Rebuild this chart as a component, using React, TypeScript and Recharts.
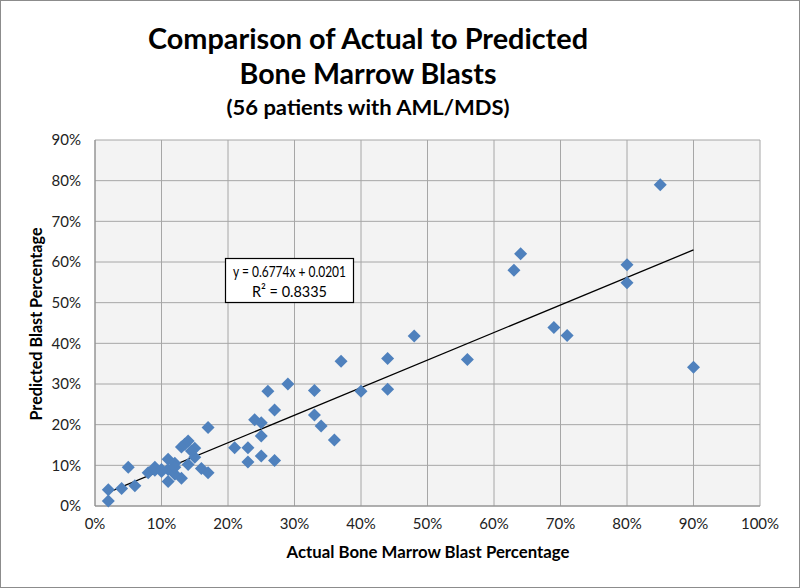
import React from 'react';
import { ScatterChart, Scatter, XAxis, YAxis, CartesianGrid, ReferenceLine } from 'recharts';

const actual = [2, 2, 4, 6, 5, 8, 9, 9, 10, 11, 11, 11, 12, 12, 13, 13, 13.5, 14, 14, 15, 15, 14.5, 16, 17, 17, 21, 23, 23, 25, 27, 24, 25, 25, 27, 26, 29, 33, 33, 34, 36, 37, 40, 44, 44, 48, 56, 63, 64, 69, 71, 80, 80, 85, 90, 12, 10];
const predicted = [1.2, 4.0, 4.3, 5.0, 9.5, 8.2, 8.8, 9.5, 8.5, 11.5, 6.0, 9.0, 10.5, 7.8, 6.8, 14.5, 15.2, 16.0, 10.2, 12.0, 14.2, 13.5, 9.2, 8.2, 19.3, 14.3, 14.3, 10.8, 12.3, 11.2, 21.2, 20.5, 17.2, 23.6, 28.2, 30.0, 28.4, 22.4, 19.7, 16.2, 35.6, 28.2, 28.7, 36.3, 41.8, 36.0, 58.0, 62.0, 43.9, 41.9, 59.3, 54.9, 79.0, 34.1, 9.5, 9.0];
const xTicks = [0, 10, 20, 30, 40, 50, 60, 70, 80, 90, 100];
const yTicks = [0, 10, 20, 30, 40, 50, 60, 70, 80, 90];
const slope = 0.6774;
const intercept = 0.0201;
const rSquared = 0.8335;
const titleLines = ['Comparison of Actual to Predicted', 'Bone Marrow Blasts'];
const subtitle = '(56 patients with AML/MDS)';
const xTitle = 'Actual Bone Marrow Blast Percentage';
const yTitle = 'Predicted Blast Percentage';

const points = actual.map((x, i) => ({ x, y: predicted[i] }));
const trendStart = Math.min(...actual);
const trendEnd = Math.max(...actual);
const trendY = (x: number) => slope * x + intercept * 100;

const FONT = 'Lato, "Open Sans", sans-serif';

const Diamond = (props: any) => {
  const { cx, cy } = props;
  const r = 6.5;
  return <path d={`M${cx},${cy - r}L${cx + r},${cy}L${cx},${cy + r}L${cx - r},${cy}Z`} fill="#4F81BD" />;
};

export default function App() {
  return (
    <div style={{ position: 'fixed', left: 0, top: 0, width: 800, height: 588, background: '#fff' }}>
      <div style={{ position: 'absolute', left: 0, top: 0 }}>
        <ScatterChart width={800} height={588} margin={{ top: 140, right: 40, bottom: 52, left: 35 }}>
          <CartesianGrid stroke="#a6a6a6" fill="#f3f3f3" />
          <XAxis
            type="number"
            dataKey="x"
            domain={[0, 100]}
            ticks={xTicks}
            tickFormatter={(v: number) => `${v}%`}
            height={30}
            tickLine={false}
            tickMargin={6}
            axisLine={{ stroke: '#8c8c8c' }}
            tick={{ fill: '#222', fontSize: 15, fontFamily: FONT }}
            interval={0}
          />
          <YAxis
            type="number"
            dataKey="y"
            domain={[0, 90]}
            ticks={yTicks}
            tickFormatter={(v: number) => `${v}%`}
            width={60}
            tickLine={false}
            tickMargin={8}
            axisLine={{ stroke: '#8c8c8c' }}
            tick={{ fill: '#222', fontSize: 15, fontFamily: FONT }}
            interval={0}
          />
          <Scatter data={points} shape={<Diamond />} isAnimationActive={false} />
          <ReferenceLine
            segment={[{ x: trendStart, y: trendY(trendStart) }, { x: trendEnd, y: trendY(trendEnd) }]}
            stroke="#000"
            strokeWidth={1.3}
            ifOverflow="visible"
          />
        </ScatterChart>
      </div>
      <svg width={800} height={588} style={{ position: 'absolute', left: 0, top: 0, pointerEvents: 'none' }}>
        <rect x={0.5} y={0.5} width={799} height={587} fill="none" stroke="#8c8c8c" />
        <text x={368} y={49} textAnchor="middle" fontFamily={FONT} fontWeight="bold" fontSize={29} fill="#000" textLength={440} lengthAdjust="spacingAndGlyphs">{titleLines[0]}</text>
        <text x={368} y={84} textAnchor="middle" fontFamily={FONT} fontWeight="bold" fontSize={29} fill="#000" textLength={257} lengthAdjust="spacingAndGlyphs">{titleLines[1]}</text>
        <text x={368} y={115} textAnchor="middle" fontFamily={FONT} fontWeight="bold" fontSize={21} fill="#000" textLength={283} lengthAdjust="spacingAndGlyphs">{subtitle}</text>
        <text x={428} y={558} textAnchor="middle" fontFamily={FONT} fontWeight="bold" fontSize={17} fill="#000" textLength={283} lengthAdjust="spacingAndGlyphs">{xTitle}</text>
        <text x={0} y={0} transform="translate(42,324) rotate(-90)" textAnchor="middle" fontFamily={FONT} fontWeight="bold" fontSize={17} fill="#000" textLength={193} lengthAdjust="spacingAndGlyphs">{yTitle}</text>
        <rect x={225.5} y={258.5} width={128} height={44} fill="#fff" stroke="#000" strokeWidth={1.2} />
        <text x={289.5} y={277} textAnchor="middle" fontFamily={FONT} fontSize={16} fill="#000" textLength={113} lengthAdjust="spacingAndGlyphs">{`y = ${slope}x + ${intercept}`}</text>
        <text x={289.5} y={297} textAnchor="middle" fontFamily={FONT} fontSize={16} fill="#000" textLength={75} lengthAdjust="spacingAndGlyphs">{`R² = ${rSquared}`}</text>
      </svg>
    </div>
  );
}
